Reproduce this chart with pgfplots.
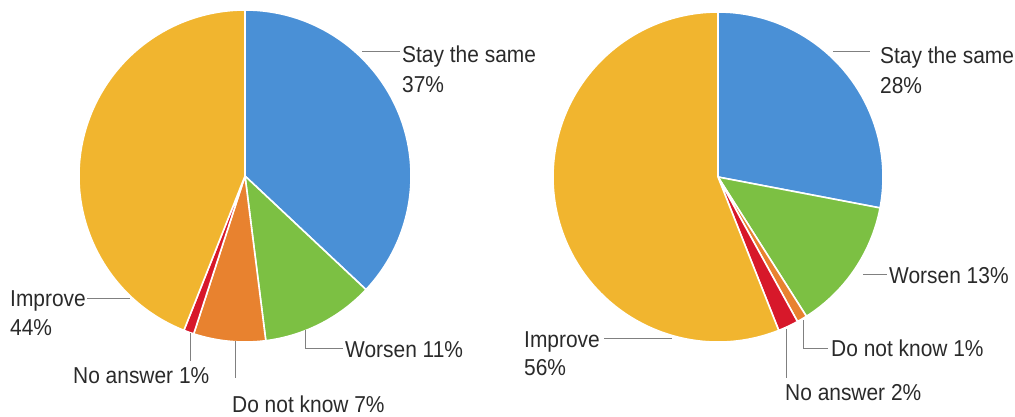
\documentclass[border=0pt]{standalone}
\usepackage{fontspec}
\setmainfont{Liberation Sans}[FakeStretch=0.91]
\usepackage{pgfplots}
\usepackage{pgfplotstable}
\pgfplotsset{compat=1.18}
\definecolor{cblue}{HTML}{4A90D6}
\definecolor{cgreen}{HTML}{7CC043}
\definecolor{corange}{HTML}{E8822F}
\definecolor{cred}{HTML}{D7182A}
\definecolor{cyellow}{HTML}{F1B52F}
\definecolor{ctext}{HTML}{2A2A2A}
\definecolor{cline}{HTML}{808080}

% share of each answer, in per cent, clockwise from 12 o'clock
\pgfplotstableread{
value color
37 cblue
11 cgreen
7 corange
1 cred
44 cyellow
}\leftdata
\pgfplotstableread{
value color
28 cblue
13 cgreen
1 corange
2 cred
56 cyellow
}\rightdata

\newcommand{\drawpie}[4]{%
  \pgfplotstablegetrowsof{#1}\pgfmathtruncatemacro\nrows{\pgfplotsretval-1}%
  \gdef\cum{0}%
  \pgfplotsforeachungrouped \i in {0,...,\nrows}{%
    \pgfplotstablegetelem{\i}{value}\of#1\let\val\pgfplotsretval
    \pgfplotstablegetelem{\i}{color}\of#1\let\col\pgfplotsretval
    \pgfmathsetmacro\sa{90-3.6*\cum}%
    \pgfmathsetmacro\ea{90-3.6*(\cum+\val)}%
    \pgfmathsetmacro\cumnew{\cum+\val}\global\let\cum\cumnew
    \edef\tmp{\noexpand\filldraw[fill=\col,draw=white,line width=1.6pt,line join=round]
      (axis cs:#2,#3) -- ++(\sa:#4bp) arc[start angle=\sa,end angle=\ea,radius=#4bp] -- cycle;}\tmp
  }%
}

\begin{document}
\begin{tikzpicture}[every node/.style={inner sep=0pt,text=ctext,font=\fontsize{23bp}{28bp}\selectfont}]
\begin{axis}[name=A,
  width=1015bp, height=416bp, scale only axis,
  xmin=0, xmax=1015, ymin=0, ymax=416, y dir=reverse,
  hide axis, clip=false]
\drawpie{\leftdata}{245}{176}{166}
\drawpie{\rightdata}{718}{177}{165}

% left leaders
\draw[cline, line width=0.9pt] (axis cs:362,51) -- (axis cs:400,51);
\node[anchor=base west] at (axis cs:402,63) {Stay the same};
\node[anchor=base west] at (axis cs:402,92.5) {37\%};
\draw[cline, line width=0.9pt] (axis cs:305,330) -- (axis cs:305,348) -- (axis cs:343,348);
\node[anchor=base west] at (axis cs:345,357.5) {Worsen 11\%};
\draw[cline, line width=0.9pt] (axis cs:235,341) -- (axis cs:235,378);
\node[anchor=base west] at (axis cs:232,412) {Do not know 7\%};
\draw[cline, line width=0.9pt] (axis cs:190,333) -- (axis cs:190,361);
\node[anchor=base west] at (axis cs:73,383) {No answer 1\%};
\draw[cline, line width=0.9pt] (axis cs:87,298) -- (axis cs:130,298);
\node[anchor=base west] at (axis cs:10,306.5) {Improve};
\node[anchor=base west] at (axis cs:10,335) {44\%};

% right leaders
\draw[cline, line width=0.9pt] (axis cs:833,51) -- (axis cs:870,51);
\node[anchor=base west] at (axis cs:880,64) {Stay the same};
\node[anchor=base west] at (axis cs:880,93) {28\%};
\draw[cline, line width=0.9pt] (axis cs:863,274) -- (axis cs:887,274);
\node[anchor=base west] at (axis cs:889,283) {Worsen 13\%};
\draw[cline, line width=0.9pt] (axis cs:803,320) -- (axis cs:803,348) -- (axis cs:828,348);
\node[anchor=base west] at (axis cs:831,356.5) {Do not know 1\%};
\draw[cline, line width=0.9pt] (axis cs:786,329) -- (axis cs:786,378);
\node[anchor=base west] at (axis cs:785,400) {No answer 2\%};
\draw[cline, line width=0.9pt] (axis cs:604,338) -- (axis cs:672,338);
\node[anchor=base west] at (axis cs:524,347) {Improve};
\node[anchor=base west] at (axis cs:524,375) {56\%};
\end{axis}
\pgfresetboundingbox
\path (A.south west) rectangle (A.north east);
\end{tikzpicture}
\end{document}
